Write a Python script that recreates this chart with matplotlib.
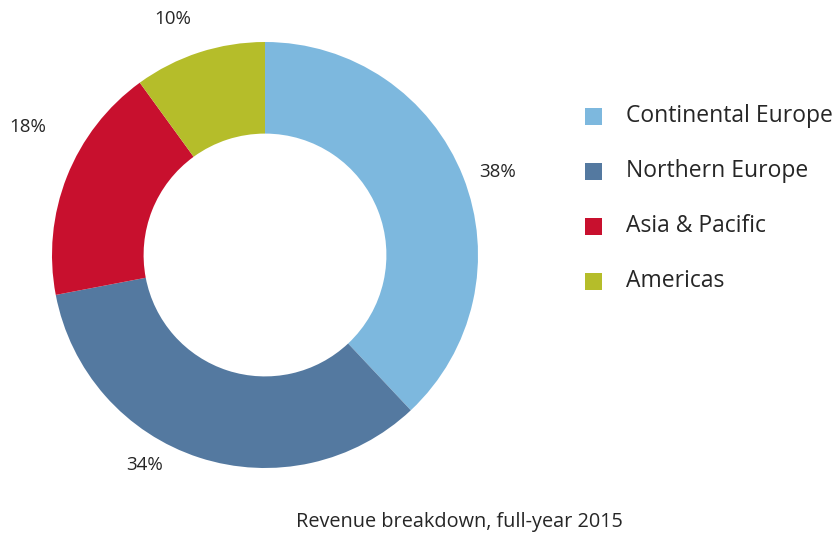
import matplotlib
matplotlib.use("Agg")
import matplotlib.pyplot as plt
from matplotlib.patches import Rectangle

categories = ["Continental Europe", "Northern Europe", "Asia & Pacific", "Americas"]
shares = [38, 34, 18, 10]
pct_labels = ["38%", "34%", "18%", "10%"]
colors = ["#7db8de", "#5479a0", "#c8102e", "#b5bd2a"]
caption = "Revenue breakdown, full-year 2015"

W, H = 837, 547
fig = plt.figure(figsize=(W / 100, H / 100), dpi=100)
ax = fig.add_axes([0, 0, 1, 1])
ax.set_xlim(0, W)
ax.set_ylim(0, H)
ax.set_aspect("equal")
ax.axis("off")

cx, cy, R = 265, H - 255, 213
ax.pie(shares, colors=colors, startangle=90, counterclock=False,
       center=(cx, cy), radius=R,
       wedgeprops=dict(width=R * 0.43, edgecolor="none"))
ax.set_xlim(0, W)
ax.set_ylim(0, H)

font = "Open Sans"
txt_color = "#262626"
label_pos = [(498, 172), (145, 465), (28, 127), (173, 19)]
for t, (x, y) in zip(pct_labels, label_pos):
    ax.text(x, H - y, t, ha="center", va="center", fontsize=13.5,
            family=font, color=txt_color)

# legend
row_y0, row_step, sq = 116, 55, 17
for i, (name, c) in enumerate(zip(categories, colors)):
    y = H - (row_y0 + i * row_step)
    ax.add_patch(Rectangle((585, y - sq / 2), sq, sq, facecolor=c,
                           edgecolor="none"))
    ax.text(626, y, name, ha="left", va="center", fontsize=16.5,
            family=font, color=txt_color)

ax.text(459, H - 522, caption, ha="center", va="center",
        fontsize=14.3, family=font, color=txt_color)

fig.savefig("out.png", dpi=100)
